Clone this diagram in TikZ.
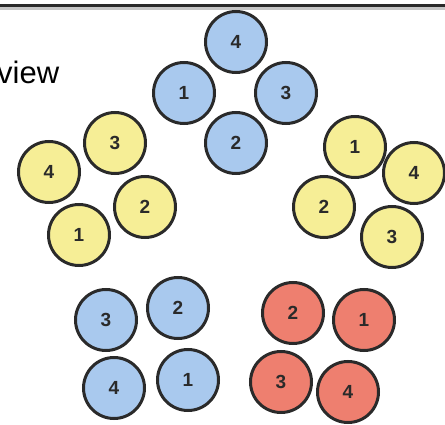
\documentclass[tikz,border=0pt]{standalone}
\usepackage{fontspec}
\setmainfont{Liberation Sans}
\definecolor{ballblue}{HTML}{A9C9EE}
\definecolor{ballyellow}{HTML}{F6EE96}
\definecolor{ballred}{HTML}{EE7F6F}
\definecolor{rimc}{HTML}{2A2A2A}
\begin{document}
\begin{tikzpicture}[x=1pt,y=-1pt,
  ball/.style={circle,draw=rimc,line width=3pt,minimum size=61pt,inner sep=0pt,
    font=\fontsize{19}{19}\selectfont\bfseries,text=rimc},
  bb/.style={ball,fill=ballblue},
  yb/.style={ball,fill=ballyellow},
  rb/.style={ball,fill=ballred}]
\useasboundingbox (0,0) rectangle (445,425);
% top rule
\fill[gray!45] (0,7) rectangle (445,10);
\fill[rimc] (0,4.5) rectangle (445,7.2);
% caption fragment
\node[anchor=base west,inner sep=0pt,font=\fontsize{31}{31}\selectfont] (lbl) at (-3,84) {view};
% top blue group
\node[bb] (t4) at (236,42) {4};
\node[bb] (t1) at (184,93) {1};
\node[bb] (t3) at (286,93) {3};
\node[bb] (t2) at (236,143) {2};
% left yellow group
\node[yb] (l3) at (115,143) {3};
\node[yb] (l4) at (49,172) {4};
\node[yb] (l2) at (145,207) {2};
\node[yb] (l1) at (79,235) {1};
% right yellow group
\node[yb] (r1) at (355,147) {1};
\node[yb] (r4) at (414,173) {4};
\node[yb] (r2) at (324,207) {2};
\node[yb] (r3) at (392,237) {3};
% bottom blue group
\node[bb] (b3) at (106,320) {3};
\node[bb] (b2) at (178,308) {2};
\node[bb] (b4) at (114,388) {4};
\node[bb] (b1) at (188,380) {1};
% red group
\node[rb] (d2) at (293,313) {2};
\node[rb] (d1) at (364,320) {1};
\node[rb] (d3) at (281,382) {3};
\node[rb] (d4) at (348,392) {4};
\end{tikzpicture}
\end{document}
